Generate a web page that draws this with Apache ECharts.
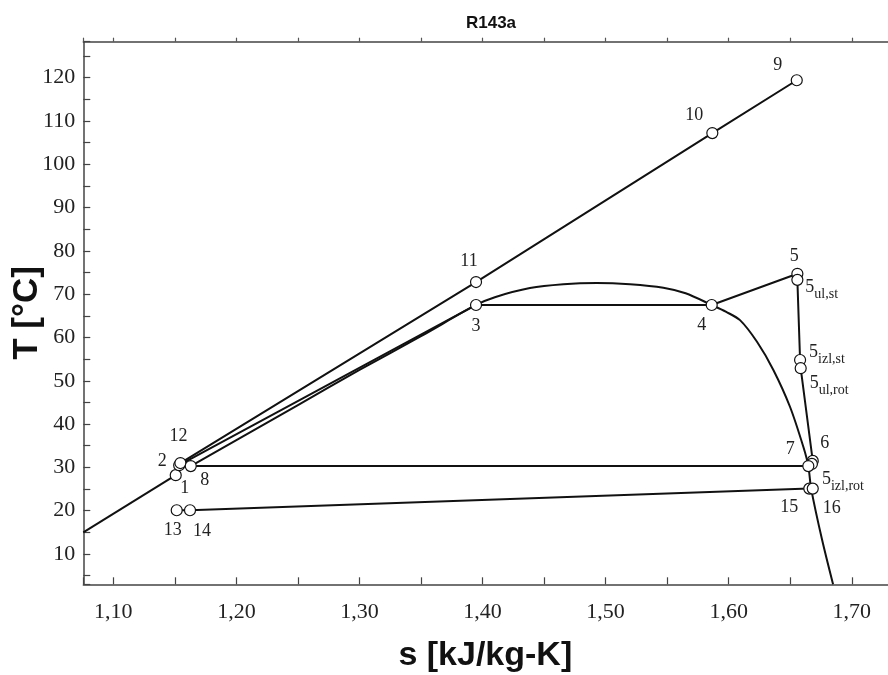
<!DOCTYPE html>
<html>
<head>
<meta charset="utf-8">
<script src="https://cdn.jsdelivr.net/npm/echarts@6/dist/echarts.min.js"></script>
<style>html,body{margin:0;padding:0;background:#fff}#c{width:888px;height:675px}</style>
</head>
<body>
<div id="c"></div>
<script>
// ---- data (s in kJ/kg-K, T in °C) ----
const chartTitle = 'R143a';
const xTitle = 's [kJ/kg-K]';
const yTitle = 'T [°C]';
const sRange = [1.0756, 1.75];
const tRange = [3, 128.3];

// lower-left line (up to point 1)
const leftLineS = [1.0756, 1.1507];
const leftLineT = [15.0, 28.2];
// heat source line 12-11-10-9
const sourceS = [1.1545, 1.3947, 1.5867, 1.6553];
const sourceT = [31.0, 72.8, 107.2, 119.4];
// saturation dome
const domeS = [1.1629, 1.20, 1.25, 1.30, 1.35, 1.3947, 1.41, 1.4385, 1.4656, 1.4928, 1.5198, 1.5469, 1.565, 1.5862, 1.598, 1.6092, 1.623, 1.6363, 1.6498, 1.6607, 1.6647, 1.6670, 1.6757, 1.6848];
const domeT = [30.3, 36.3, 44.4, 52.5, 60.3, 67.5, 69.3, 71.4, 72.3, 72.6, 72.3, 71.5, 70.2, 67.5, 65.9, 64.0, 59.0, 52.5, 44.0, 34.7, 30.3, 25.1, 13.5, 3.0];
// cycle 1-2-3-4-5-5ul,st-5izl,st-5ul,rot-6-7-8
const cycleS = [1.1507, 1.1535, 1.3947, 1.5862, 1.6558, 1.6558, 1.6580, 1.6585, 1.6683, 1.6647, 1.1629];
const cycleT = [28.2, 30.5, 67.5, 67.5, 74.7, 73.3, 54.8, 52.9, 31.5, 30.3, 30.3];
// cold line 13-14-15-16
const coldS = [1.1515, 1.1623, 1.6655, 1.6683];
const coldT = [20.1, 20.1, 25.1, 25.1];

// marked points
const pointNames = ['1', '2', '12', '8', '3', '11', '4', '10', '9', '5', '5ul,st', '5izl,st', '5ul,rot', '6', '5izl,rot', '7', '15', '16', '13', '14'];
const pointS = [1.1507, 1.1535, 1.1545, 1.1629, 1.3947, 1.3947, 1.5862, 1.5867, 1.6553, 1.6558, 1.6558, 1.6580, 1.6585, 1.6683, 1.6676, 1.6647, 1.6655, 1.6683, 1.1515, 1.1623];
const pointT = [28.2, 30.5, 31.0, 30.3, 67.5, 72.8, 67.5, 107.2, 119.4, 74.7, 73.3, 54.8, 52.9, 31.5, 30.8, 30.3, 25.1, 25.1, 20.1, 20.1];

// ---- label placement (style only) ----
const labelPlace = {
  '1': [9, 13, 'center'], '2': [-17, -4, 'center'], '12': [-2, -27, 'center'], '8': [14, 14, 'center'],
  '3': [0, 21, 'center'], '11': [-7, -21, 'center'], '4': [-10, 20, 'center'], '10': [-18, -18, 'center'],
  '9': [-19, -15, 'center'], '5': [-3, -18, 'center'], '5ul,st': [8, 7, 'left'], '5izl,st': [9, -8, 'left'],
  '5ul,rot': [9, 15, 'left'], '6': [12, -18, 'center'], '5izl,rot': [10, 15, 'left'], '7': [-18, -17, 'center'],
  '15': [-20, 19, 'center'], '16': [19, 20, 'center'], '13': [-4, 20, 'center'], '14': [12, 21, 'center']
};

const zip = (a, b) => a.map((v, i) => [v, b[i]]);
const serif = 'Liberation Serif';
const sans = 'Liberation Sans';

function fmtLabel(name) {
  if (name.length > 2 && name[0] === '5') return '{m|5}{s|' + name.slice(1) + '}';
  return '{m|' + name + '}';
}

const pts = pointNames.map((n, i) => {
  const p = labelPlace[n];
  return {
    name: n,
    value: [pointS[i], pointT[i]],
    label: { offset: [p[0], p[1]], align: p[2] }
  };
});

const lineStyle = { color: '#111', width: 2 };
const lineSeries = (data, smooth) => ({
  type: 'line', data: data, showSymbol: false, symbol: 'none', lineStyle: lineStyle, z: 2,
  silent: true, animation: false, clip: true, smooth: smooth || false
});

const axisCommon = {
  type: 'value',
  axisLine: { show: true, onZero: false, lineStyle: { color: '#444', width: 1.5 } },
  axisTick: { show: true, inside: true, length: 7, lineStyle: { color: '#444', width: 1.2 } },
  minorTick: { show: true, splitNumber: 2, length: 7, lineStyle: { color: '#444', width: 1.2 } },
  splitLine: { show: false },
  axisLabel: { showMinLabel: false, showMaxLabel: false, fontFamily: serif, fontSize: 22, color: '#222' }
};

const chart = echarts.init(document.getElementById('c'), null, { renderer: 'canvas' });
chart.setOption({
  animation: false,
  backgroundColor: '#fff',
  title: {
    text: chartTitle, left: 486, top: 10, textAlign: 'center',
    textStyle: { fontFamily: sans, fontWeight: 'bold', fontSize: 17, color: '#111' }
  },
  grid: { left: 83.3, right: -25.3, top: 41.7, bottom: 90.7, containLabel: false, outerBoundsMode: 'none' },
  xAxis: [
    Object.assign({}, axisCommon, {
      min: sRange[0], max: sRange[1], splitNumber: 7, position: 'bottom',
      name: xTitle, nameLocation: 'middle', nameGap: 54, nameMoveOverlap: false,
      nameTextStyle: { fontFamily: sans, fontWeight: 'bold', fontSize: 34, color: '#111', padding: [0, 26, 0, 0] },
      axisLabel: Object.assign({}, axisCommon.axisLabel, { margin: 17, formatter: v => v.toFixed(2).replace('.', ',') })
    }),
    Object.assign({}, axisCommon, {
      min: sRange[0], max: sRange[1], splitNumber: 7, position: 'top',
      axisTick: { show: true, inside: false, length: 4, lineStyle: { color: '#555', width: 1.2 } },
      minorTick: { show: true, splitNumber: 2, length: 4, lineStyle: { color: '#555', width: 1.2 } },
      axisLabel: { show: false }
    })
  ],
  yAxis: [
    Object.assign({}, axisCommon, {
      min: tRange[0], max: tRange[1], splitNumber: 12,
      name: yTitle, nameLocation: 'middle', nameGap: 38, nameRotate: 90, nameMoveOverlap: false,
      nameTextStyle: { fontFamily: sans, fontWeight: 'bold', fontSize: 35, color: '#111' },
      axisLabel: Object.assign({}, axisCommon.axisLabel, { margin: 8 })
    })
  ],
  series: [
    lineSeries(zip(leftLineS, leftLineT)),
    lineSeries(zip(sourceS, sourceT)),
    lineSeries(zip(domeS, domeT), 0.3),
    lineSeries(zip(cycleS, cycleT)),
    lineSeries(zip(coldS, coldT)),
    {
      type: 'scatter', data: pts, symbol: 'circle', symbolSize: 11, z: 5, animation: false,
      itemStyle: { color: '#fff', borderColor: '#111', borderWidth: 1.2, opacity: 1 },
      label: {
        show: true, position: 'inside', formatter: p => fmtLabel(p.name), color: '#222', verticalAlign: 'middle',
        rich: {
          m: { fontFamily: serif, fontSize: 18, lineHeight: 18, color: '#222', verticalAlign: 'top' },
          s: { fontFamily: serif, fontSize: 14, lineHeight: 14, color: '#222', verticalAlign: 'top', padding: [9, 0, 0, 0] }
        }
      }
    }
  ]
});
</script>
</body>
</html>
